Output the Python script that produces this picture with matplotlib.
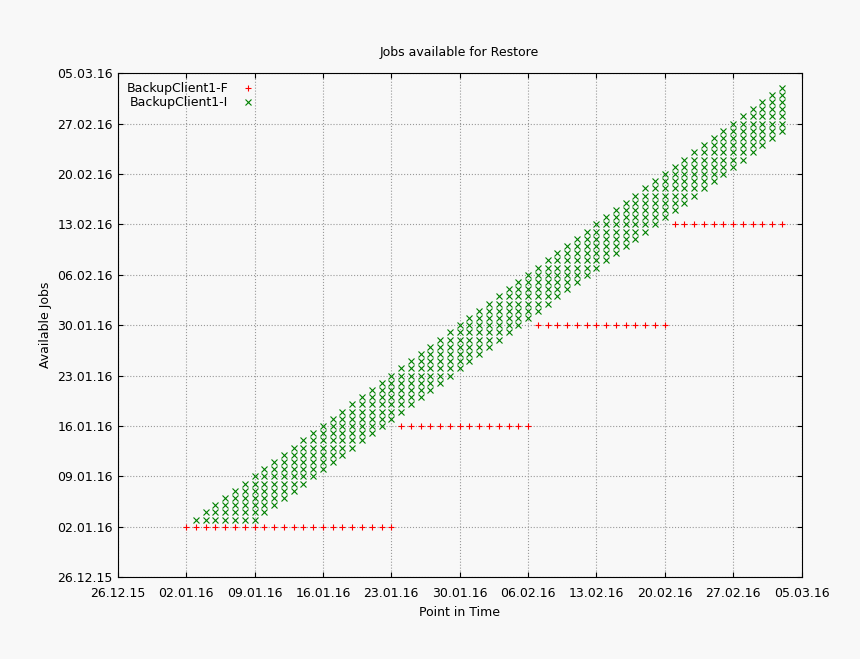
import datetime as dt
import matplotlib
matplotlib.use("Agg")
import matplotlib.pyplot as plt
import matplotlib.dates as mdates

# full backups: (first day listed, last day listed, backup date)
full_periods = [
    ("2016-01-02", "2016-01-23", "2016-01-02"),
    ("2016-01-24", "2016-02-06", "2016-01-16"),
    ("2016-02-07", "2016-02-20", "2016-01-30"),
    ("2016-02-21", "2016-03-03", "2016-02-13"),
]
incr_first = "2016-01-03"
incr_last = "2016-03-03"
incr_keep_days = 7


def d(s):
    return dt.date.fromisoformat(s)


fx, fy = [], []
for start, end, bdate in full_periods:
    day = d(start)
    while day <= d(end):
        fx.append(day)
        fy.append(d(bdate))
        day += dt.timedelta(days=1)

ix, iy = [], []
day = d(incr_first)
while day <= d(incr_last):
    low = max(d(incr_first), day - dt.timedelta(days=incr_keep_days - 1))
    y = low
    while y <= day:
        ix.append(day)
        iy.append(y)
        y += dt.timedelta(days=1)
    day += dt.timedelta(days=1)

fig = plt.figure(figsize=(8.6, 6.59), dpi=100, facecolor="#f8f8f8")
ax = fig.add_axes([0.137, 0.124, 0.795, 0.765], facecolor="#f8f8f8")

ax.plot(fx, fy, "+", color="red", ms=5, mew=0.8, label="BackupClient1-F", linestyle="none")
ax.plot(ix, iy, "x", color="green", ms=5, mew=0.8, label="BackupClient1-I", linestyle="none")

ticks = [d("2015-12-26") + dt.timedelta(days=7 * i) for i in range(11)]
ax.set_xticks(ticks)
ax.set_yticks(ticks)
ax.set_xlim(ticks[0], ticks[-1])
ax.set_ylim(ticks[0], ticks[-1])
ax.xaxis.set_major_formatter(mdates.DateFormatter("%d.%m.%y"))
ax.yaxis.set_major_formatter(mdates.DateFormatter("%d.%m.%y"))
ax.tick_params(labelsize=9, direction="in", top=True, right=True)
ax.tick_params(axis="x", pad=7)
ax.grid(True, linestyle=":", color="#999999", linewidth=0.8)

ax.set_title("Jobs available for Restore", fontsize=9, pad=12)
ax.set_xlabel("Point in Time", fontsize=9)
ax.set_ylabel("Available Jobs", fontsize=9)
ax.legend(loc="upper left", frameon=False, markerfirst=False, fontsize=9,
          handletextpad=0.6, borderaxespad=0.3, labelspacing=0.1)

fig.savefig("out.png", dpi=100, facecolor=fig.get_facecolor())
